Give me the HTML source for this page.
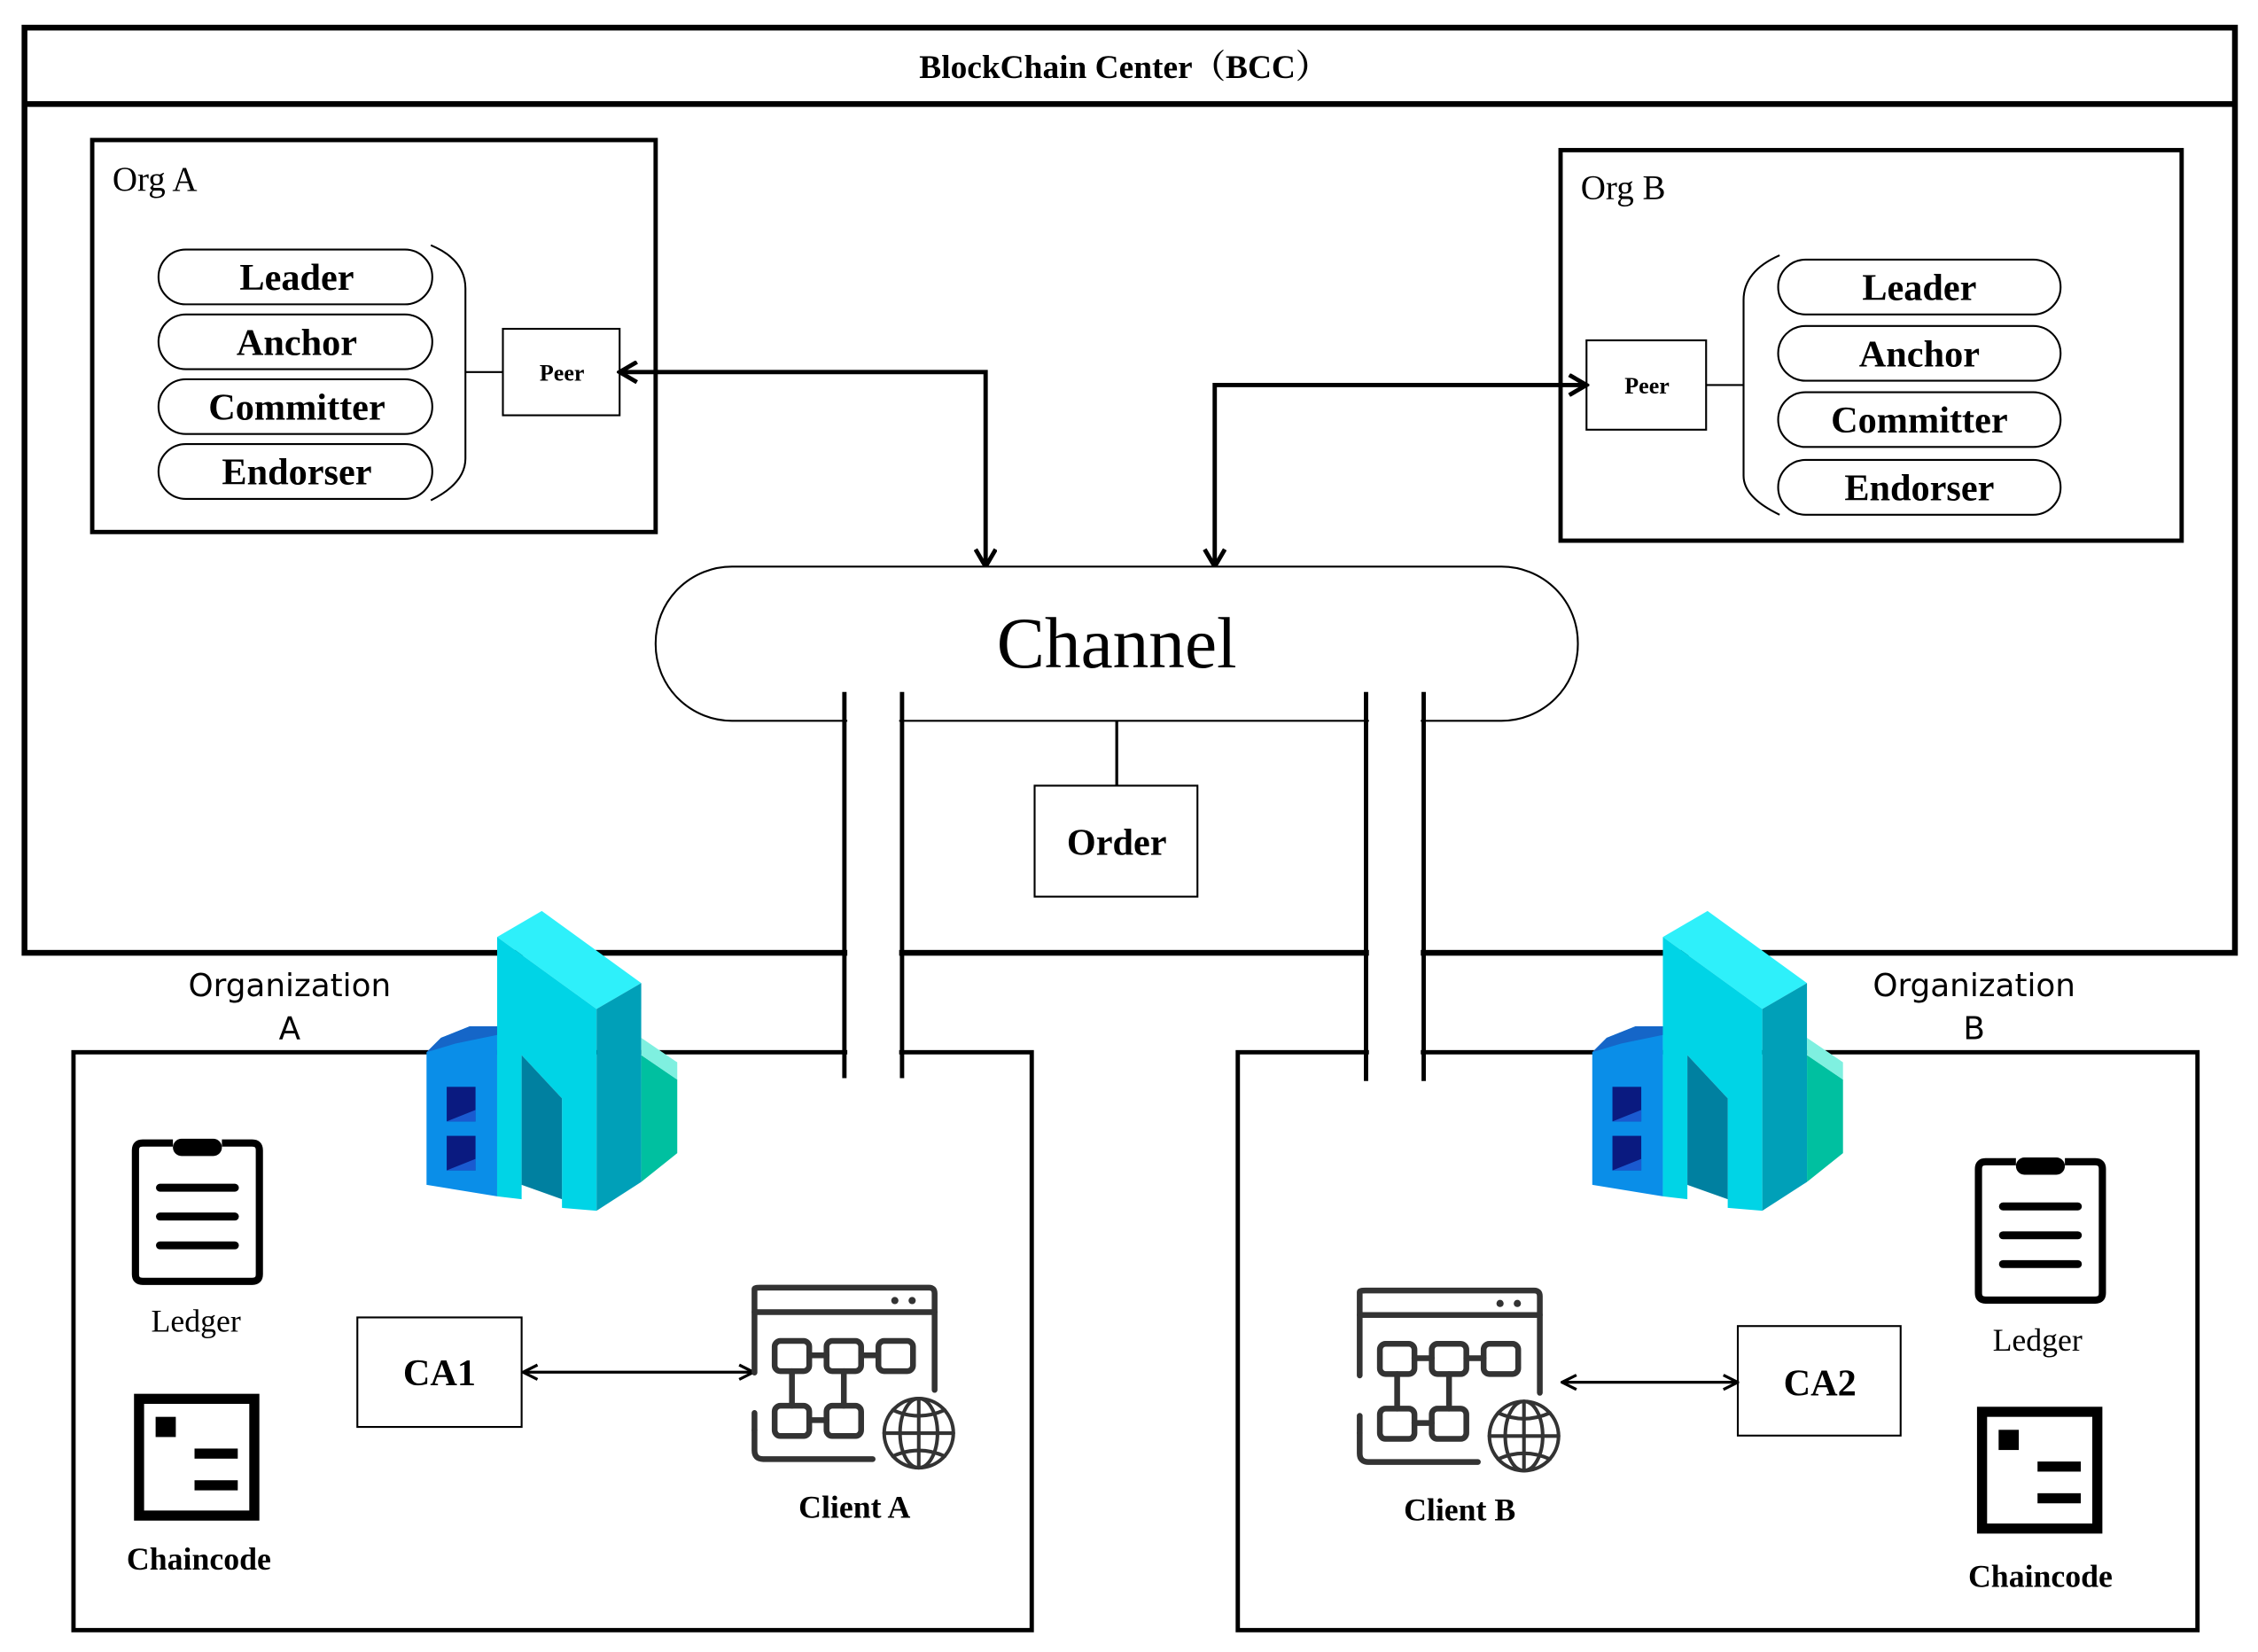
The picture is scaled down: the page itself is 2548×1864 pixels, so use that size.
<!DOCTYPE html>
<html><head><meta charset="utf-8"><style>html,body{margin:0;padding:0;background:#fff}svg{display:block}</style></head>
<body>
<svg width="2548" height="1864" viewBox="0 0 1567 1146" xmlns="http://www.w3.org/2000/svg">
<defs>
<g id="bld">
 <polygon points="0,98 10,88 30,80 49,80 49,198 0,190" fill="#0a8ee8"/>
 <polygon points="0,98 10,88 30,80 49,80 49,86 20,92" fill="#1566c8"/>
 <rect x="14" y="122" width="20" height="24" fill="#0a1a80"/>
 <rect x="14" y="156" width="20" height="24" fill="#0a1a80"/>
 <polygon points="14,146 34,138 34,146" fill="#1a5ad0"/>
 <polygon points="14,180 34,172 34,180" fill="#1a5ad0"/>
 <polygon points="49,18 80,0 149,50 118,68" fill="#2ef0fa"/>
 <polygon points="49,18 118,68 118,208 94,206 94,130 66,100 66,200 49,198" fill="#00d4e6"/>
 <polygon points="66,100 94,130 94,200 66,190" fill="#0080a0"/>
 <polygon points="118,68 149,50 149,188 118,208" fill="#00a0b8"/>
 <polygon points="149,100 174,117 174,168 149,188" fill="#00c0a0"/>
 <polygon points="149,100 149,88 174,105 174,117" fill="#7ff0e0"/>
</g>
<g id="client" fill="none" stroke="#333" stroke-width="4" stroke-linecap="round">
 <path d="M7,79 L7,21 Q7,20 11,20 L128,20 Q132,20 132,24 L132,91"/>
 <path d="M7,107 L7,133 Q7,139 13,139 L89,139"/>
 <line x1="7" y1="37" x2="132" y2="37"/>
 <circle cx="104.4" cy="29" r="2.5" fill="#333" stroke="none"/>
 <circle cx="116.4" cy="29" r="2.5" fill="#333" stroke="none"/>
 <circle cx="7" cy="119" r="2" fill="#333" stroke="none"/>
 <rect x="21" y="57" width="24" height="21" rx="4"/>
 <rect x="57" y="57" width="24" height="21" rx="4"/>
 <rect x="93" y="57" width="24" height="21" rx="4"/>
 <rect x="21" y="102" width="24" height="21" rx="4"/>
 <rect x="57" y="102" width="24" height="21" rx="4"/>
 <line x1="45" y1="67" x2="57" y2="67"/><line x1="81" y1="67" x2="93" y2="67"/>
 <line x1="45" y1="112" x2="57" y2="112"/>
 <line x1="33" y1="78" x2="33" y2="102"/><line x1="69" y1="78" x2="69" y2="102"/>
 <g stroke-width="2.5">
 <circle cx="121" cy="121" r="24"/>
 <ellipse cx="121" cy="121" rx="13" ry="24"/>
 <line x1="121" y1="97" x2="121" y2="145"/>
 <line x1="97" y1="121" x2="145" y2="121"/>
 <path d="M103,105 Q121,113 139,105 M103,137 Q121,129 139,137"/>
 </g>
</g>
<g id="ledger">
 <path d="M120,793 L99,793 Q94,793 94,798 L94,884 Q94,889 99,889 L175,889 Q180,889 180,884 L180,798 Q180,793 175,793 L154,793" fill="none" stroke="#000" stroke-width="5"/>
 <rect x="120" y="790" width="34" height="12" rx="6" fill="#000"/>
 <g stroke="#000" stroke-width="5.5" stroke-linecap="round">
 <line x1="111" y1="824" x2="163" y2="824"/><line x1="111" y1="844" x2="163" y2="844"/><line x1="111" y1="864" x2="163" y2="864"/>
 </g>
</g>
<g id="chain">
 <rect x="96.5" y="970.5" width="80" height="81" fill="none" stroke="#000" stroke-width="7"/>
 <rect x="108" y="983" width="14" height="14" fill="#000"/>
 <rect x="135" y="1005" width="30" height="7" fill="#000"/>
 <rect x="135" y="1027" width="30" height="7" fill="#000"/>
</g>
<marker id="ah" viewBox="0 0 12 12" refX="11" refY="6" markerWidth="12" markerHeight="12" markerUnits="userSpaceOnUse" orient="auto-start-reverse">
 <path d="M1,1 L11,6 L1,11" fill="none" stroke="#000" stroke-width="2"/>
</marker>
<marker id="ah2" viewBox="0 0 16 16" refX="14" refY="8" markerWidth="16" markerHeight="16" markerUnits="userSpaceOnUse" orient="auto-start-reverse">
 <path d="M2,1 L14,8 L2,15" fill="none" stroke="#000" stroke-width="3"/>
</marker>
</defs>

<g font-family="'Liberation Serif','Noto Serif CJK SC',serif" fill="#000">
<!-- BCC -->
<rect x="17" y="19" width="1534" height="642" fill="none" stroke="#000" stroke-width="4"/>
<line x1="17" y1="72" x2="1551" y2="72" stroke="#000" stroke-width="4"/>
<text x="780" y="54" font-size="23" font-weight="bold" text-anchor="middle">BlockChain Center（BCC）</text>

<!-- Org A -->
<rect x="64" y="97" width="391" height="272" fill="none" stroke="#000" stroke-width="3"/>
<text x="78" y="132" font-size="24">Org A</text>
<g fill="none" stroke="#000" stroke-width="1.3">
 <rect x="110" y="173" width="190" height="38" rx="19"/>
 <rect x="110" y="218" width="190" height="38" rx="19"/>
 <rect x="110" y="263" width="190" height="38" rx="19"/>
 <rect x="110" y="308" width="190" height="38" rx="19"/>
 <path d="M299,170 Q323,180 323,200 L323,318 Q323,335 299,347"/>
 <line x1="323" y1="258" x2="349" y2="258"/>
 <rect x="349" y="228" width="81" height="60"/>
</g>
<g font-size="26" font-weight="bold" text-anchor="middle">
 <text x="206" y="201">Leader</text><text x="206" y="246">Anchor</text><text x="206" y="291">Committer</text><text x="206" y="336">Endorser</text>
</g>
<text x="390" y="264" font-size="16" font-weight="bold" text-anchor="middle">Peer</text>
<path d="M430,258 L684,258 L684,393" fill="none" stroke="#000" stroke-width="3" marker-start="url(#ah2)" marker-end="url(#ah2)"/>

<!-- Org B -->
<rect x="1083" y="104" width="431" height="271" fill="none" stroke="#000" stroke-width="3"/>
<text x="1097" y="138" font-size="24">Org B</text>
<g fill="none" stroke="#000" stroke-width="1.3">
 <rect x="1234" y="180" width="196" height="38" rx="19"/>
 <rect x="1234" y="226" width="196" height="38" rx="19"/>
 <rect x="1234" y="272" width="196" height="38" rx="19"/>
 <rect x="1234" y="319" width="196" height="38" rx="19"/>
 <path d="M1235,177 Q1210,188 1210,208 L1210,330 Q1210,345 1235,357"/>
 <line x1="1184" y1="267" x2="1210" y2="267"/>
 <rect x="1101" y="236" width="83" height="62"/>
</g>
<g font-size="26" font-weight="bold" text-anchor="middle">
 <text x="1332" y="208">Leader</text><text x="1332" y="254">Anchor</text><text x="1332" y="300">Committer</text><text x="1332" y="347">Endorser</text>
</g>
<text x="1143" y="273" font-size="16" font-weight="bold" text-anchor="middle">Peer</text>
<path d="M1101,267 L843,267 L843,393" fill="none" stroke="#000" stroke-width="3" marker-start="url(#ah2)" marker-end="url(#ah2)"/>

<!-- Channel -->
<rect x="455" y="393" width="640" height="107" rx="53" fill="#fff" stroke="#000" stroke-width="1.3"/>
<text x="775" y="463" font-size="50" text-anchor="middle">Channel</text>
<line x1="775" y1="500" x2="775" y2="545" stroke="#000" stroke-width="2"/>
<rect x="718" y="545" width="113" height="77" fill="none" stroke="#000" stroke-width="1.3"/>
<text x="775" y="593" font-size="26" font-weight="bold" text-anchor="middle">Order</text>

<!-- bottom org boxes -->
<rect x="51" y="730" width="665" height="401" fill="none" stroke="#000" stroke-width="3"/>
<rect x="859" y="730" width="666" height="401" fill="none" stroke="#000" stroke-width="3"/>

<!-- pipes: white gaps -->
<rect x="588" y="478" width="36" height="272" fill="#fff"/>
<rect x="950" y="478" width="36" height="272" fill="#fff"/>
<g stroke="#000" stroke-width="3">
 <line x1="586" y1="480" x2="586" y2="748"/><line x1="626" y1="480" x2="626" y2="748"/>
 <line x1="948" y1="480" x2="948" y2="750"/><line x1="988" y1="480" x2="988" y2="750"/>
</g>

<g font-family="'DejaVu Sans','Liberation Sans',sans-serif" font-size="22" text-anchor="middle">
 <text x="201" y="691">Organization</text><text x="201" y="721">A</text>
 <text x="1370" y="691">Organization</text><text x="1370" y="721">B</text>
</g>
<rect x="198" y="723" width="10" height="4" fill="#fff"/>

<use href="#bld" transform="translate(296,632)"/>
<use href="#bld" transform="translate(1105,632)"/>

<!-- Org A items -->
<use href="#ledger"/>
<text x="136" y="924" font-size="22">
 <tspan text-anchor="middle">Ledger</tspan></text>
<use href="#chain"/>
<text x="138" y="1089" font-size="22" font-weight="bold" text-anchor="middle">Chaincode</text>
<rect x="248" y="914" width="114" height="76" fill="none" stroke="#000" stroke-width="1.3"/>
<text x="305" y="961" font-size="26" font-weight="bold" text-anchor="middle">CA1</text>
<line x1="363" y1="952" x2="523" y2="952" stroke="#000" stroke-width="2" marker-start="url(#ah)" marker-end="url(#ah)"/>
<use href="#client" transform="translate(516.6,873.3)"/>
<text x="593" y="1053" font-size="22" font-weight="bold" text-anchor="middle">Client A</text>

<!-- Org B items -->
<use href="#client" transform="translate(936.6,875.3)"/>
<text x="1013" y="1055" font-size="22" font-weight="bold" text-anchor="middle">Client B</text>
<line x1="1084" y1="959" x2="1206" y2="959" stroke="#000" stroke-width="2" marker-start="url(#ah)" marker-end="url(#ah)"/>
<rect x="1206" y="920" width="113" height="76" fill="none" stroke="#000" stroke-width="1.3"/>
<text x="1263" y="968" font-size="26" font-weight="bold" text-anchor="middle">CA2</text>
<use href="#ledger" transform="translate(1279,13)"/>
<text x="1414" y="937" font-size="22" text-anchor="middle">Ledger</text>
<use href="#chain" transform="translate(1279,9)"/>
<text x="1416" y="1101" font-size="22" font-weight="bold" text-anchor="middle">Chaincode</text>
</g>
</svg>
</body></html>
